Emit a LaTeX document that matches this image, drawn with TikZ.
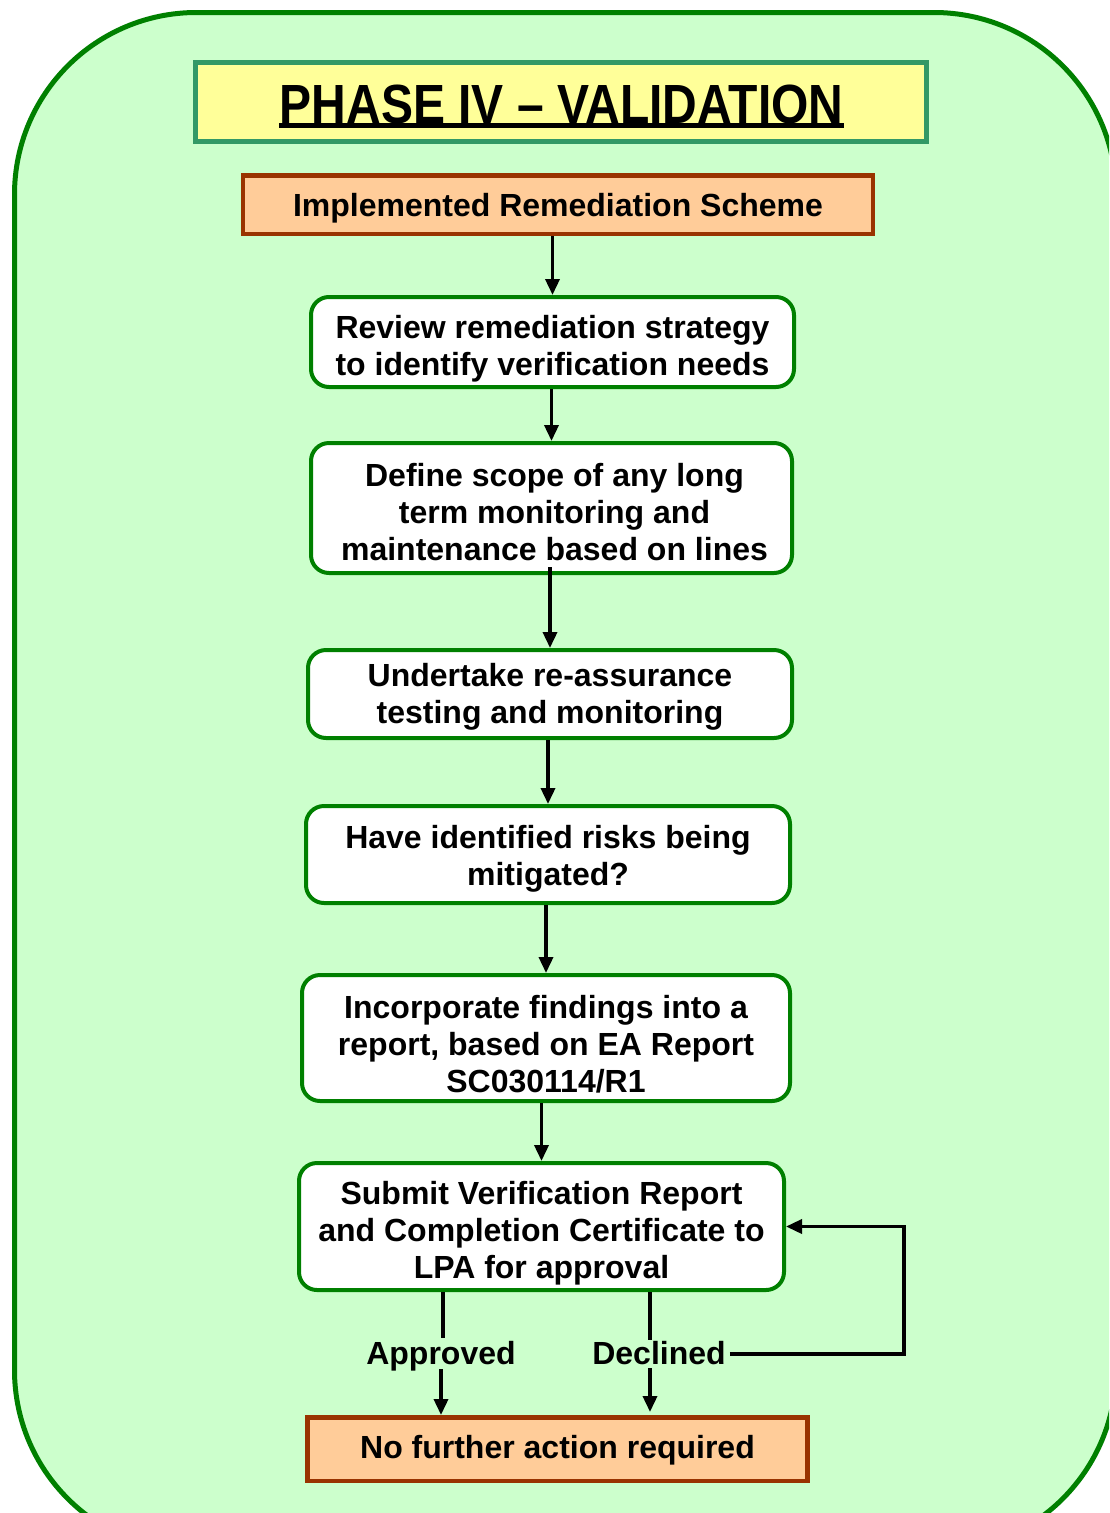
\documentclass[tikz,border=0pt]{standalone}
\usepackage{fontspec}
\setmainfont{Liberation Sans}
\usepackage{graphicx}
\usetikzlibrary{arrows.meta}
\definecolor{bggreen}{HTML}{CCFFCC}
\definecolor{darkgreen}{HTML}{008000}
\definecolor{titlefill}{HTML}{FFFF99}
\definecolor{titledraw}{HTML}{339966}
\definecolor{orangefill}{HTML}{FFCC99}
\definecolor{orangedraw}{HTML}{993300}
\begin{document}
\begin{tikzpicture}[x=1pt,y=-1pt,
  every node/.style={font=\fontsize{32}{37}\selectfont\bfseries, align=center, inner sep=0pt},
  stepbox/.style={draw=darkgreen, line width=4pt, fill=white, rounded corners=18pt},
  endbox/.style={draw=orangedraw, line width=4.5pt, fill=orangefill},
  titlebox/.style={draw=titledraw, line width=5pt, fill=titlefill},
  conn/.style={line width=3.5pt, draw=black},
  arr/.style={conn, -{Triangle[length=16pt,width=14pt]}}
]
\useasboundingbox (0,0) rectangle (1109,1513);
\begin{scope}
  \clip (0,0) rectangle (1109,1513);
  \draw[draw=darkgreen, fill=bggreen, line width=5pt, rounded corners=182pt]
    (14.5,12.5) rectangle (1116,1552);
\end{scope}

% title
\node[titlebox, minimum width=731pt, minimum height=79pt] (title) at (561,102) {};
\node[anchor=base, font=\fontsize{48}{56}\selectfont\bfseries] (tt) at (561.5,123)
  {\scalebox{1}[1.15]{PHASE IV – VALIDATION}};
\draw[line width=5pt] ([yshift=-2.5pt]tt.base west) -- ([yshift=-2.5pt]tt.base east);

% boxes
\node[endbox, minimum width=630pt, minimum height=58.5pt] (b1) at (558,204.5) {};
\node[yshift=-4pt] (b1t) at (b1) {Implemented Remediation Scheme};
\node[stepbox, minimum width=483pt, minimum height=90pt] (b2) at (552.5,342) {};
\node[yshift=-7pt] (b2t) at (b2) {Review remediation strategy\\to identify verification needs};
\node[stepbox, minimum width=481pt, minimum height=130pt] (b3) at (551.5,508) {};
\node[yshift=-4pt, xshift=3pt] (b3t) at (b3) {Define scope of any long\\term monitoring and\\maintenance based on lines};
\node[stepbox, minimum width=484pt, minimum height=88pt] (b4) at (550,694) {};
\node[yshift=-3pt] (b4t) at (b4) {Undertake re-assurance\\testing and monitoring};
\node[stepbox, minimum width=484pt, minimum height=97pt] (b5) at (548,854.5) {};
\node[yshift=-4pt] (b5t) at (b5) {Have identified risks being\\mitigated?};
\node[stepbox, minimum width=488pt, minimum height=126pt] (b6) at (546,1038) {};
\node[yshift=-6pt] (b6t) at (b6) {Incorporate findings into a\\report, based on EA Report\\SC030114/R1};
\node[stepbox, minimum width=485pt, minimum height=127pt] (b7) at (541.5,1226.5) {};
\node[yshift=-7pt] (b7t) at (b7) {Submit Verification Report\\and Completion Certificate to\\LPA for approval};
\node[endbox, minimum width=500pt, minimum height=63.5pt] (b8) at (557.5,1449) {};
\node[yshift=-1pt] (b8t) at (b8) {No further action required};

% labels
\node[anchor=base] (ap) at (441,1364) {Approved};
\node[anchor=base] (dc) at (659,1364) {Declined};
\coordinate (apt) at (443,1338);
\coordinate (apb) at (441,1369);
\coordinate (dct) at (650,1340);
\coordinate (dcb) at (650,1368);
\coordinate (fb) at (904,1354);

% connectors
\draw[arr] (b1.south -| b2.north) -- (b2.north);
\draw[arr] (b2.south -| b3.north) -- (b3.north);
\draw[arr] ([yshift=8pt]b3.south -| b4.north) -- (b4.north);
\draw[arr] (b4.south -| b5.north) -- (b5.north);
\draw[arr] (b5.south -| b6.north) -- (b6.north);
\draw[arr] (b6.south -| b7.north) -- (b7.north);

\draw[conn] (b7.south -| apt) -- (apt);
\draw[arr] (apb) -- (apb |- b8.north);
\draw[conn] (b7.south -| dct) -- (dct);
\draw[arr] (dcb) -- ([yshift=3pt]dcb |- b8.north);
\draw[arr] ([xshift=4pt]dc.east |- fb) -- (fb) |- (b7.east);
\end{tikzpicture}
\end{document}
